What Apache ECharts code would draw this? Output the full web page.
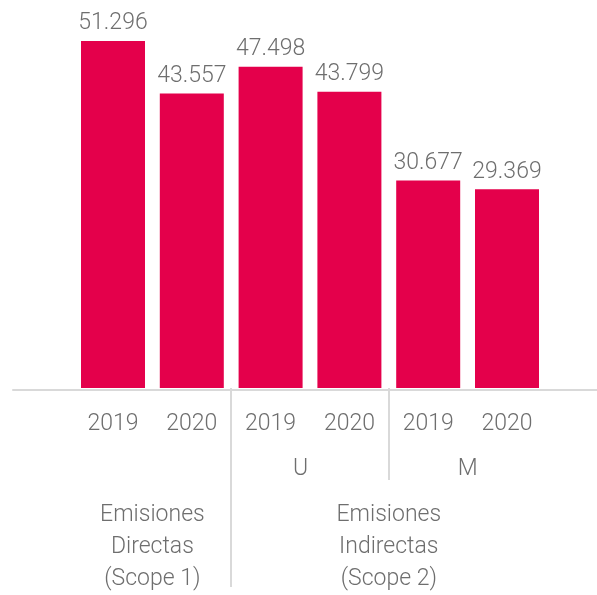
<!DOCTYPE html>
<html><head><meta charset="utf-8">
<script src="https://cdn.jsdelivr.net/npm/echarts@6/dist/echarts.min.js"></script>
<style>html,body{margin:0;padding:0;background:#fff}#c{width:597px;height:595px}</style>
</head><body><div id="c"></div>
<script>
const years = ['2019','2020','2019','2020','2019','2020'];
const values = [51.296, 43.557, 47.498, 43.799, 30.677, 29.369];
const subGroupLabels = ['U', 'M'];
const groupLabels = ['Emisiones\nDirectas\n(Scope 1)', 'Emisiones\nIndirectas\n(Scope 2)'];

const subGroupPos = [2.88, 5];
const groupPos = [1, 4];
const textColor = '#6e6e6e';
const lineColor = '#d9d9d9';
const font = 'Roboto';
const chart = echarts.init(document.getElementById('c'));
const fmt = v => v.toFixed(3);
chart.setOption({
  animation: false,
  grid: [
    {left: 73.6, right: 50.6, top: 16, bottom: 205},
    {left: 13, right: 0, top: 16, bottom: 205}
  ],
  xAxis: [
    {type: 'category', gridIndex: 0, data: years,
     axisLine: {show: false}, axisTick: {show: false},
     axisLabel: {color: textColor, fontSize: 23, fontFamily: font, fontWeight: 300, margin: 25}},
    {type: 'value', gridIndex: 0, min: 0, max: 6, position: 'bottom',
     axisLine: {show: false}, splitLine: {show: false},
     axisTick: {show: true, customValues: [4], length: 92, lineStyle: {color: lineColor, width: 2}},
     axisLabel: {customValues: subGroupPos, formatter: v => subGroupLabels[subGroupPos.indexOf(v)] || '',
                 color: textColor, fontSize: 23, fontFamily: font, fontWeight: 300, margin: 70}},
    {type: 'value', gridIndex: 0, min: 0, max: 6, position: 'bottom',
     axisLine: {show: false}, splitLine: {show: false},
     axisTick: {show: true, customValues: [2], length: 199, lineStyle: {color: lineColor, width: 2}},
     axisLabel: {customValues: groupPos, formatter: v => groupLabels[groupPos.indexOf(v)] || '',
                 color: textColor, fontSize: 23, fontFamily: font, fontWeight: 300, margin: 111, lineHeight: 32}},
    {type: 'value', gridIndex: 1, min: 0, max: 1, position: 'bottom',
     axisLine: {show: true, lineStyle: {color: lineColor, width: 2}},
     axisTick: {show: false}, axisLabel: {show: false}, splitLine: {show: false}}
  ],
  yAxis: [
    {type: 'value', gridIndex: 0, min: 0, max: 55, show: false},
    {type: 'value', gridIndex: 1, min: 0, max: 1, show: false}
  ],
  series: [{
    type: 'bar', xAxisIndex: 0, yAxisIndex: 0, data: values, barWidth: 64,
    itemStyle: {color: '#E4004B'},
    label: {show: true, position: 'top', distance: 6, formatter: p => fmt(p.value),
            color: textColor, fontSize: 23, fontFamily: font, fontWeight: 300}
  }]
});
</script></body></html>
